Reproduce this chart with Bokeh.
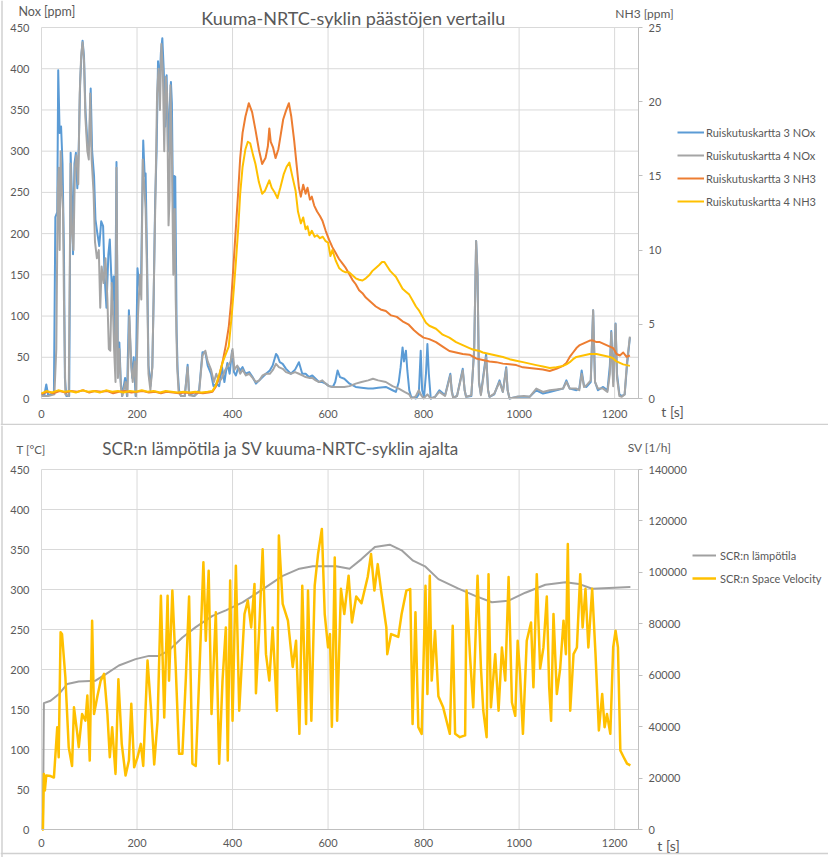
from bokeh.plotting import figure
from bokeh.models import Range1d, LinearAxis, Legend, LegendItem, Label, FixedTicker, BasicTickFormatter, Span
from bokeh.layouts import column
from bokeh.embed import file_html
from bokeh.resources import INLINE

# ---------------- data: top chart ----------------
x_ticks = [0, 200, 400, 600, 800, 1000, 1200]
nox_ticks = [0, 50, 100, 150, 200, 250, 300, 350, 400, 450]
nh3_ticks = [0, 5, 10, 15, 20, 25]
t_ticks = [0, 50, 100, 150, 200, 250, 300, 350, 400, 450]
sv_ticks = [0, 20000, 40000, 60000, 80000, 100000, 120000, 140000]

nox3_t = [0, 6, 10, 14, 26, 29, 33, 35, 38, 41,
          44, 47, 49, 52, 58, 61, 64, 66, 69, 72,
          75, 78, 81, 84, 86, 89, 92, 96, 100, 103,
          106, 110, 113, 117, 121, 125, 129, 132, 136, 140,
          143, 146, 149, 151, 154, 157, 160, 163, 166, 169,
          175, 179, 183, 187, 190, 193, 197, 201, 204, 208,
          211, 213, 216, 218, 221, 224, 228, 232, 235, 238,
          241, 244, 247, 250, 253, 256, 259, 262, 265, 268,
          271, 273, 276, 278, 280, 283, 285, 288, 292, 300,
          306, 309, 320, 330, 337, 343, 348, 355, 360, 366,
          372, 378, 383, 389, 394, 399, 403, 407, 412, 416,
          421, 427, 435, 442, 449, 456, 463, 470, 478, 484,
          491, 494, 499, 505, 512, 522, 531, 539, 546, 553,
          560, 567, 574, 581, 588, 595, 602, 610, 615, 620,
          625, 634, 645, 658, 670, 684, 694, 705, 721, 735,
          742, 748, 752, 756, 759, 763, 766, 770, 774, 784,
          790, 794, 797, 801, 805, 808, 811, 815, 824, 833,
          845, 856, 859, 862, 870, 882, 886, 889, 900, 906,
          910, 913, 916, 920, 931, 935, 938, 948, 959, 966,
          973, 976, 980, 995, 1010, 1022, 1036, 1050, 1064, 1078,
          1092, 1099, 1106, 1120, 1126, 1131, 1136, 1141, 1150, 1155,
          1159, 1165, 1176, 1185, 1190, 1193, 1197, 1200, 1202, 1205,
          1210, 1215, 1221, 1226, 1232]
nox3 = [5, 4, 17, 4, 6, 220, 226, 398, 322, 330,
        285, 180, 25, 3, 3, 298, 240, 175, 285, 298,
        255, 305, 385, 420, 434, 415, 350, 312, 305, 376,
        300, 270, 217, 200, 185, 215, 209, 150, 110, 175,
        193, 150, 120, 148, 70, 287, 30, 68, 20, 3,
        25, 3, 107, 50, 25, 50, 3, 158, 140, 127,
        240, 313, 270, 273, 170, 40, 15, 38, 127, 240,
        300, 409, 380, 420, 437, 398, 330, 392, 300, 350,
        384, 358, 200, 270, 269, 80, 35, 10, 3, 3,
        41, 5, 3, 10, 56, 56, 40, 30, 15, 18,
        15, 38, 20, 43, 30, 58, 32, 28, 38, 34,
        38, 30, 32, 26, 18, 22, 26, 30, 34, 40,
        54, 52, 44, 42, 36, 30, 35, 44, 30, 30,
        26, 28, 24, 20, 20, 18, 15, 14, 20, 34,
        26, 24, 18, 14, 13, 12, 12, 13, 14, 10,
        8, 20, 38, 62, 45, 58, 34, 10, 2, 0,
        5, 58, 10, 2, 30, 66, 30, 0, 2, 10,
        4, 30, 10, 1, 3, 36, 10, 2, 3, 60,
        191, 150, 20, 5, 54, 10, 2, 5, 22, 8,
        38, 10, 0, 2, 2, 2, 10, 6, 8, 10,
        12, 22, 12, 10, 12, 34, 15, 14, 20, 107,
        20, 10, 14, 10, 40, 82, 20, 60, 91, 30,
        5, 3, 5, 40, 74]

nox4_t = [0, 8, 14, 27, 31, 34, 36, 38, 40, 42,
          45, 47, 50, 57, 61, 64, 67, 70, 73, 77,
          80, 83, 86, 89, 92, 96, 99, 102, 105, 109,
          112, 116, 120, 123, 126, 130, 134, 138, 141, 144,
          147, 150, 152, 155, 157, 160, 163, 166, 169, 176,
          180, 184, 188, 191, 195, 198, 202, 206, 209, 212,
          215, 218, 221, 224, 228, 232, 235, 239, 242, 245,
          248, 251, 254, 257, 260, 263, 266, 268, 270, 273,
          276, 279, 281, 284, 287, 292, 300, 306, 309, 320,
          330, 337, 343, 348, 355, 361, 366, 372, 378, 385,
          391, 396, 400, 404, 410, 416, 421, 428, 435, 442,
          449, 456, 463, 470, 478, 485, 491, 497, 505, 512,
          522, 531, 539, 546, 553, 560, 567, 574, 581, 588,
          595, 602, 610, 620, 634, 645, 658, 670, 684, 694,
          705, 721, 735, 748, 760, 770, 775, 784, 790, 795,
          800, 808, 815, 824, 833, 845, 856, 859, 862, 870,
          882, 886, 889, 900, 906, 910, 913, 916, 920, 931,
          935, 938, 948, 959, 966, 973, 976, 980, 995, 1010,
          1022, 1036, 1050, 1064, 1078, 1092, 1099, 1106, 1120, 1126,
          1131, 1136, 1141, 1150, 1155, 1159, 1165, 1176, 1185, 1190,
          1193, 1197, 1200, 1202, 1205, 1210, 1215, 1221, 1226, 1232]
nox4 = [3, 3, 3, 5, 60, 250, 280, 180, 300, 260,
        230, 120, 5, 3, 285, 200, 180, 280, 295, 260,
        370, 415, 432, 410, 340, 300, 290, 370, 290, 250,
        190, 170, 180, 110, 160, 140, 170, 120, 60, 58,
        140, 100, 60, 20, 280, 25, 60, 15, 3, 20,
        3, 100, 40, 20, 45, 3, 100, 150, 120, 290,
        260, 230, 150, 30, 10, 38, 130, 260, 370, 400,
        350, 430, 400, 300, 390, 370, 210, 240, 380, 300,
        150, 230, 120, 40, 8, 3, 3, 38, 4, 3,
        8, 52, 58, 45, 35, 20, 30, 20, 25, 35,
        40, 45, 60, 35, 40, 30, 35, 28, 30, 25,
        20, 22, 28, 30, 30, 35, 42, 38, 36, 32,
        30, 32, 30, 28, 26, 25, 25, 22, 20, 22,
        18, 15, 14, 14, 14, 15, 18, 20, 22, 24,
        22, 20, 15, 12, 8, 5, 0, 3, 10, 4,
        0, 5, 0, 2, 8, 3, 28, 8, 1, 3,
        34, 10, 2, 4, 60, 191, 150, 20, 4, 50,
        10, 2, 6, 20, 8, 36, 10, 0, 2, 3,
        2, 12, 8, 10, 11, 12, 20, 12, 12, 10,
        30, 14, 16, 22, 107, 20, 12, 12, 8, 30,
        80, 15, 55, 90, 25, 3, 2, 5, 45, 75]

nh3_3_t = [0, 12, 25, 38, 50, 62, 75, 88, 100, 112,
           125, 138, 150, 162, 175, 188, 200, 212, 225, 238,
           250, 262, 275, 288, 300, 312, 325, 338, 350, 358,
           365, 372, 380, 386, 392, 397, 402, 407, 412, 416,
           421, 427, 434, 441, 448, 455, 462, 469, 474, 477,
           480, 485, 490, 496, 501, 506, 512, 518, 523, 529,
           534, 539, 543, 548, 553, 557, 562, 566, 571, 577,
           583, 588, 595, 602, 609, 616, 623, 630, 637, 644,
           651, 658, 665, 672, 679, 686, 693, 700, 710, 721,
           732, 744, 756, 768, 780, 791, 800, 812, 826, 840,
           854, 868, 882, 896, 910, 924, 938, 952, 966, 980,
           994, 1008, 1022, 1036, 1050, 1064, 1078, 1092, 1099, 1106,
           1113, 1120, 1127, 1134, 1141, 1148, 1155, 1162, 1169, 1176,
           1183, 1190, 1197, 1204, 1211, 1218, 1225, 1232]
nh3_3 = [0.3, 0.45, 0.35, 0.5, 0.4, 0.5, 0.45, 0.55, 0.4, 0.5,
         0.45, 0.5, 0.35, 0.45, 0.5, 0.4, 0.45, 0.5, 0.4, 0.45,
         0.35, 0.45, 0.4, 0.35, 0.4, 0.35, 0.4, 0.35, 0.4, 0.45,
         0.8, 1.5, 2.6, 3.6, 4.8, 6.5, 9.0, 11.5, 14.0, 16.2,
         17.9, 19.0, 19.9, 19.3, 18.1, 16.8, 15.8, 16.2, 17.0, 18.2,
         17.3, 16.9, 16.2, 16.8, 17.8, 18.8, 19.4, 19.9, 19.0, 17.4,
         15.8, 14.2, 13.6, 14.4, 13.8, 14.2, 13.4, 13.6, 13.0, 12.6,
         12.3, 12.0, 11.3, 10.7, 10.2, 9.8, 9.4, 9.1, 8.8, 8.4,
         8.0, 7.7, 7.3, 7.1, 6.8, 6.6, 6.4, 6.2, 6.0, 5.9,
         5.6, 5.5, 5.2, 5.0, 4.6, 4.3, 4.1, 4.0, 3.8, 3.5,
         3.2, 3.1, 3.0, 2.95, 2.7, 2.6, 2.5, 2.45, 2.35, 2.3,
         2.25, 2.1, 2.05, 2.0, 1.95, 1.85, 2.0, 2.2, 2.4, 2.8,
         3.1, 3.4, 3.6, 3.7, 3.8, 3.9, 3.9, 3.8, 3.8, 3.7,
         3.6, 3.5, 3.4, 3.0, 2.9, 3.1, 2.8, 2.9]

nh3_4_t = [0, 10, 22, 35, 48, 60, 72, 85, 98, 110,
           122, 135, 148, 160, 172, 185, 198, 210, 222, 235,
           248, 260, 272, 285, 298, 310, 322, 335, 348, 358,
           365, 372, 380, 386, 392, 398, 403, 407, 412, 416,
           421, 427, 432, 437, 443, 448, 455, 462, 468, 473,
           477, 482, 488, 494, 500, 507, 513, 519, 525, 532,
           537, 543, 548, 553, 557, 561, 566, 572, 577, 583,
           589, 595, 600, 605, 609, 616, 623, 630, 637, 644,
           651, 658, 665, 672, 679, 686, 693, 700, 707, 713,
           718, 724, 730, 736, 742, 749, 756, 763, 770, 777,
           784, 791, 798, 805, 812, 819, 826, 833, 840, 847,
           854, 861, 868, 875, 882, 889, 896, 903, 910, 917,
           924, 931, 938, 945, 952, 966, 980, 994, 1008, 1022,
           1036, 1050, 1064, 1078, 1092, 1099, 1106, 1113, 1120, 1127,
           1134, 1141, 1148, 1155, 1162, 1169, 1176, 1183, 1190, 1197,
           1204, 1211, 1218, 1225, 1232]
nh3_4 = [0.35, 0.5, 0.4, 0.55, 0.45, 0.5, 0.4, 0.55, 0.45, 0.5,
         0.4, 0.55, 0.45, 0.5, 0.4, 0.5, 0.45, 0.55, 0.45, 0.5,
         0.4, 0.5, 0.45, 0.4, 0.45, 0.4, 0.45, 0.4, 0.45, 0.5,
         0.9, 1.6, 2.5, 3.0, 3.5, 5.5, 7.5, 9.2, 11.5, 13.8,
         15.6, 16.8, 17.3, 17.2, 16.4, 15.8, 14.6, 13.8, 14.0, 14.4,
         14.7, 14.2, 13.9, 13.5, 14.2, 15.1, 15.6, 15.9, 15.0, 14.0,
         12.6, 11.8, 12.2, 11.4, 11.6, 11.0, 11.3, 10.9, 11.0, 10.8,
         10.9, 10.6, 10.5, 9.6, 10.0, 9.3, 8.8, 8.6, 8.5, 8.5,
         8.3, 8.1, 8.0, 7.95, 8.1, 8.3, 8.6, 8.8, 9.0, 9.2,
         9.2, 8.9, 8.6, 8.4, 8.2, 7.8, 7.4, 7.2, 7.0, 6.6,
         6.2, 5.9, 5.5, 5.1, 4.9, 4.8, 4.7, 4.5, 4.3, 4.2,
         4.1, 3.95, 3.8, 3.7, 3.6, 3.5, 3.4, 3.3, 3.25, 3.2,
         3.1, 3.05, 3.0, 2.95, 2.9, 2.8, 2.65, 2.55, 2.45, 2.35,
         2.25, 2.15, 2.05, 2.1, 2.2, 2.3, 2.45, 2.65, 2.8, 2.85,
         2.9, 2.95, 3.0, 3.0, 3.0, 2.95, 2.9, 2.85, 2.8, 2.7,
         2.5, 2.4, 2.3, 2.25, 2.2]

# ---------------- data: bottom chart ----------------
temp_t = [3, 5, 19, 36, 54, 78, 113, 134, 162, 197,
          225, 246, 267, 295, 323, 358, 386, 421, 442, 470,
          505, 540, 568, 596, 617, 645, 670, 698, 729, 754,
          778, 803, 831, 873, 908, 943, 978, 1013, 1055, 1097,
          1125, 1153, 1188, 1233]
temp = [0, 158, 161, 169, 182, 185, 186, 194, 205, 213,
        217, 217, 224, 240, 253, 267, 274, 284, 292, 303,
        317, 326, 329, 329, 329, 326, 338, 353, 356, 349,
        336, 329, 313, 301, 292, 284, 286, 296, 306, 309,
        307, 301, 302, 303]

sv_t = [1, 3, 5, 7, 10, 19, 26, 33, 36, 40,
        43, 50, 57, 64, 68, 75, 78, 85, 92, 96,
        101, 106, 110, 117, 124, 131, 138, 143, 148, 155,
        161, 168, 176, 183, 188, 194, 201, 208, 213, 222,
        229, 236, 243, 250, 257, 264, 267, 274, 281, 288,
        295, 302, 309, 316, 323, 330, 339, 344, 350, 356,
        365, 372, 379, 386, 390, 395, 400, 407, 414, 425,
        432, 439, 446, 449, 456, 463, 470, 477, 484, 493,
        497, 505, 516, 526, 533, 540, 546, 554, 558, 565,
        572, 579, 587, 593, 600, 604, 608, 614, 619, 627,
        634, 643, 650, 659, 670, 683, 690, 697, 704, 711,
        722, 724, 732, 747, 754, 764, 772, 777, 783, 789,
        796, 804, 808, 813, 817, 824, 831, 841, 848, 855,
        861, 866, 876, 887, 890, 897, 904, 913, 920, 925,
        932, 936, 941, 950, 957, 964, 971, 978, 985, 992,
        997, 1002, 1008, 1016, 1025, 1030, 1037, 1044, 1051, 1058,
        1063, 1067, 1072, 1079, 1086, 1093, 1098, 1102, 1107, 1114,
        1121, 1128, 1133, 1139, 1145, 1153, 1160, 1167, 1174, 1179,
        1184, 1191, 1197, 1202, 1207, 1212, 1219, 1226, 1233]
sv = [0, 0, 21600, 15150, 21000, 20800, 20200, 39800, 28100, 76700,
      75900, 59200, 32000, 24700, 47500, 37200, 32000, 44900, 42300, 52100,
      26800, 81200, 44900, 51800, 57900, 60500, 44900, 28100, 39800, 21600,
      58400, 33300, 21000, 26800, 48900, 24200, 28100, 33300, 24700, 65700,
      47500, 25300, 42300, 90900, 43600, 90900, 57900, 92900, 63200, 29500,
      29500, 57900, 90600, 25600, 24700, 57900, 103900, 73400, 100600, 44900,
      84500, 25600, 57900, 78600, 26800, 96800, 42300, 102600, 46200, 83800,
      89000, 78600, 95500, 53000, 78600, 109000, 68200, 57900, 78600, 46200,
      114300, 87700, 81200, 63200, 73400, 37200, 94800, 41000, 92900, 42300,
      94800, 107100, 116900, 83800, 70800, 76000, 40000, 105800, 42300, 93600,
      83800, 98700, 80500, 90600, 88000, 98200, 107100, 92900, 103200, 92900,
      78600, 68200, 76000, 74900, 83800, 92900, 93500, 41000, 84500, 39800,
      37200, 94800, 52700, 98700, 57900, 77300, 51800, 47500, 42300, 37200,
      79200, 37200, 35900, 36600, 92900, 68200, 47500, 98700, 63200, 46200,
      35900, 99300, 47500, 68200, 46200, 70800, 57900, 98200, 49400, 44200,
      73400, 60500, 37200, 73400, 80500, 55300, 99300, 62600, 70800, 90600,
      55300, 42300, 83800, 52700, 62600, 81200, 68200, 111000, 46200, 68200,
      70800, 99300, 78600, 93600, 70800, 93600, 68200, 38500, 52700, 39800,
      44900, 37200, 70800, 77300, 70800, 30700, 28100, 25600, 24900]

# ---------------- styling / layout ----------------
FONT = "Lato"
TXT = "#595959"
GRID = "#D9D9D9"
AXL = "#BFBFBF"
BORDER = "#D0D0D0"
BLUE, GRAY, ORANGE, YELLOW = "#5B9BD5", "#A5A5A5", "#ED7D31", "#FFC000"

W = 828
X_MAX = 1250
Y_MAX = 450
PX_X0, PX_X1 = 41, 638          # canvas px where x = 0 and x = X_MAX


class Frame:
    """Maps canvas pixels of one figure to its data coordinates."""
    def __init__(self, h, top, bottom):
        self.h, self.top, self.bottom = h, top, bottom
        self.kx = X_MAX / (PX_X1 - PX_X0)
        self.ky = Y_MAX / (bottom - top)

    def xr(self):
        return Range1d(-PX_X0 * self.kx, X_MAX + (W - PX_X1) * self.kx)

    def yr(self, vmax=Y_MAX):
        f = vmax / Y_MAX
        return Range1d(-(self.h - self.bottom) * self.ky * f, (Y_MAX + self.top * self.ky) * f)

    def x(self, px):
        return (px - PX_X0) * self.kx

    def y(self, py):
        return (self.bottom - py) * self.ky


def make_fig(fr, left_ticks, right_name, right_max, right_ticks, xlab_standoff):
    p = figure(width=W, height=fr.h, x_range=fr.xr(), y_range=fr.yr(),
               x_axis_type=None, y_axis_type=None,
               output_backend="svg", toolbar_location=None, title=None,
               min_border=0, outline_line_color=None)
    p.extra_y_ranges = {right_name: fr.yr(right_max)}
    # gridlines restricted to the chart area
    p.segment(x0=x_ticks, y0=[0] * len(x_ticks), x1=x_ticks, y1=[Y_MAX] * len(x_ticks),
              line_color=GRID, line_width=1)
    p.segment(x0=[0] * len(left_ticks), y0=left_ticks, x1=[X_MAX] * len(left_ticks), y1=left_ticks,
              line_color=GRID, line_width=1)
    # chart-area border (left edge and separator)
    p.add_layout(Span(location=fr.x(1.5), dimension="height", line_color=BORDER, line_width=1.5))

    def style(ax, standoff):
        ax.major_label_text_font = FONT
        ax.major_label_text_font_size = "11px"
        ax.major_label_text_color = TXT
        ax.minor_tick_line_color = None
        ax.minor_tick_out = 0
        ax.major_label_standoff = standoff

    xa = LinearAxis(fixed_location=0, bounds=(0, X_MAX), ticker=FixedTicker(ticks=x_ticks))
    style(xa, xlab_standoff)
    xa.axis_line_color = AXL
    xa.major_tick_line_color = None
    xa.major_tick_out = 0
    xa.major_tick_in = 0
    p.add_layout(xa, "below")

    ya = LinearAxis(fixed_location=0, bounds=(0, Y_MAX), ticker=FixedTicker(ticks=left_ticks))
    style(ya, 12)
    ya.axis_line_color = None
    ya.major_tick_line_color = None
    ya.major_tick_out = 0
    ya.major_tick_in = 0
    p.add_layout(ya, "left")

    ra = LinearAxis(y_range_name=right_name, fixed_location=X_MAX, bounds=(0, right_max),
                    ticker=FixedTicker(ticks=right_ticks),
                    formatter=BasicTickFormatter(use_scientific=False))
    style(ra, 6)
    ra.axis_line_color = AXL
    ra.major_tick_line_color = AXL
    ra.major_tick_in = 0
    ra.major_tick_out = 4
    p.add_layout(ra, "right")
    return p


def label(p, fr, px, py, text, size, align="left"):
    p.add_layout(Label(x=fr.x(px), y=fr.y(py), text=text, text_font=FONT, text_font_size=size,
                       text_color=TXT, text_align=align, text_baseline="middle"))


# ---------------- top chart ----------------
f1 = Frame(425, 27, 398)
p1 = make_fig(f1, nox_ticks, "nh3", 25, nh3_ticks, 11)

r1 = p1.line(nox3_t, nox3, line_color=BLUE, line_width=2, line_join="round")
r2 = p1.line(nox4_t, nox4, line_color=GRAY, line_width=2, line_join="round")
r3 = p1.line(nh3_3_t, nh3_3, line_color=ORANGE, line_width=2, line_join="round", y_range_name="nh3")
r4 = p1.line(nh3_4_t, nh3_4, line_color=YELLOW, line_width=2, line_join="round", y_range_name="nh3")

leg1 = Legend(items=[LegendItem(label="Ruiskutuskartta 3 NOx", renderers=[r1]),
                     LegendItem(label="Ruiskutuskartta 4 NOx", renderers=[r2]),
                     LegendItem(label="Ruiskutuskartta 3 NH3", renderers=[r3]),
                     LegendItem(label="Ruiskutuskartta 4 NH3", renderers=[r4])],
              location=(677, 214), padding=0, margin=0, spacing=3,
              glyph_width=27, glyph_height=20, label_height=20, label_standoff=2,
              label_text_font=FONT, label_text_font_size="11px", label_text_color=TXT,
              border_line_color=None, background_fill_alpha=0)
p1.add_layout(leg1)

label(p1, f1, 353, 17, "Kuuma-NRTC-syklin päästöjen vertailu", "18px", "center")
label(p1, f1, 18, 11, "Nox [ppm]", "12.5px")
label(p1, f1, 644, 13, "NH3 [ppm]", "12px", "center")
label(p1, f1, 672, 411, "t [s]", "14px", "center")
p1.add_layout(Span(location=f1.y(424), dimension="width", line_color=BORDER, line_width=1.5))

# ---------------- bottom chart ----------------
f2 = Frame(432, 44, 404)
p2 = make_fig(f2, t_ticks, "sv", 140000, sv_ticks, 9)

s1 = p2.line(temp_t, temp, line_color="#A0A0A0", line_width=2, line_join="round")
s2 = p2.line(sv_t, sv, line_color=YELLOW, line_width=2.5, line_join="round", y_range_name="sv")

leg2 = Legend(items=[LegendItem(label="SCR:n lämpötila", renderers=[s1]),
                     LegendItem(label="SCR:n Space Velocity", renderers=[s2])],
              location=(692, 269), padding=0, margin=0, spacing=3,
              glyph_width=24, glyph_height=20, label_height=20, label_standoff=4,
              label_text_font=FONT, label_text_font_size="11px", label_text_color=TXT,
              border_line_color=None, background_fill_alpha=0)
p2.add_layout(leg2)

label(p2, f2, 280, 23, "SCR:n lämpötila ja SV kuuma-NRTC-syklin ajalta", "17px", "center")
label(p2, f2, 16, 24, "T [°C]", "11.5px")
label(p2, f2, 649, 22, "SV [1/h]", "12px", "center")
label(p2, f2, 668, 420, "t [s]", "14px", "center")
p2.add_layout(Span(location=f2.y(428), dimension="width", line_color=BORDER, line_width=1.5))

layout = column(p1, p2, spacing=0)
open("out.html", "w").write(file_html(layout, INLINE))
